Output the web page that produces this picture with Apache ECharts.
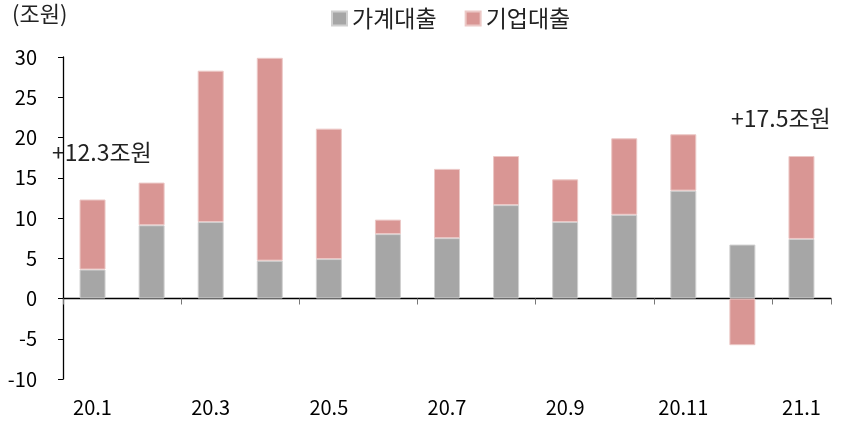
<!DOCTYPE html>
<html>
<head>
<meta charset="utf-8">
<script src="https://cdn.jsdelivr.net/npm/echarts@6/dist/echarts.min.js"></script>
<style>
  html, body { margin: 0; padding: 0; background: #fff; }
  #chart { width: 843px; height: 425px; }
</style>
</head>
<body>
<div id="chart"></div>
<script>
const months = ['20.1', '20.2', '20.3', '20.4', '20.5', '20.6', '20.7', '20.8', '20.9', '20.10', '20.11', '20.12', '21.1']
const household = [3.6, 9.1, 9.5, 4.7, 4.9, 8.0, 7.5, 11.6, 9.5, 10.4, 13.4, 6.7, 7.4]
const corporate = [8.7, 5.3, 18.8, 25.2, 16.2, 1.8, 8.6, 6.1, 5.3, 9.5, 7.0, -5.8, 10.3]
const yTicks = { min: -10, max: 30, interval: 5 }

const font = '"Noto Sans CJK KR", "Noto Sans", sans-serif'

const chart = echarts.init(document.getElementById('chart'))
const options = {
  animation: false,
  textStyle: { fontFamily: font },
  grid: { left: 63, right: 12, top: 57, bottom: 46, outerBoundsMode: 'none', containLabel: false },
  legend: {
    top: 2,
    left: 326,
    itemWidth: 15,
    itemHeight: 14,
    itemGap: 28,
    textStyle: { fontSize: 23, color: '#222', fontFamily: font },
    data: [
      { name: '가계대출', icon: 'rect' },
      { name: '기업대출', icon: 'rect' }
    ]
  },
  graphic: [
    { type: 'text', left: 12, top: 3, style: { text: '(조원)', fontSize: 22, fill: '#222', fontFamily: font } },
    { type: 'text', left: 52, top: 141, style: { text: '+12.3조원', fontSize: 23, fill: '#222', fontFamily: font } },
    { type: 'text', left: 731, top: 107, style: { text: '+17.5조원', fontSize: 23, fill: '#222', fontFamily: font } }
  ],
  xAxis: {
    type: 'category',
    data: months,
    axisLine: { onZero: true, lineStyle: { color: '#000', width: 1.3 } },
    axisTick: {
      show: true,
      interval: (i) => i % 2 === 0 && i < months.length,
      length: 6,
      lineStyle: { color: '#777' }
    },
    axisLabel: {
      interval: 1,
      color: '#000',
      fontSize: 20,
      fontFamily: font,
      margin: 18
    }
  },
  yAxis: {
    type: 'value',
    min: yTicks.min,
    max: yTicks.max,
    interval: yTicks.interval,
    splitLine: { show: false },
    axisLine: { show: true, lineStyle: { color: '#000', width: 1.3 } },
    axisTick: { show: true, length: 5, lineStyle: { color: '#000' } },
    axisLabel: { color: '#000', fontSize: 20, fontFamily: font, margin: 26 }
  },
  series: [
    {
      name: '가계대출',
      type: 'bar',
      stack: 'loans',
      barWidth: 26,
      itemStyle: { color: '#A6A6A6', borderColor: '#d0d0d0', borderWidth: 1 },
      data: household
    },
    {
      name: '기업대출',
      type: 'bar',
      stack: 'loans',
      barWidth: 26,
      itemStyle: { color: '#D99694', borderColor: '#ecc8c6', borderWidth: 1 },
      data: corporate
    }
  ]
}
chart.setOption(options)
window.addEventListener('resize', () => {
  chart.resize()
})
</script>
</body>
</html>
